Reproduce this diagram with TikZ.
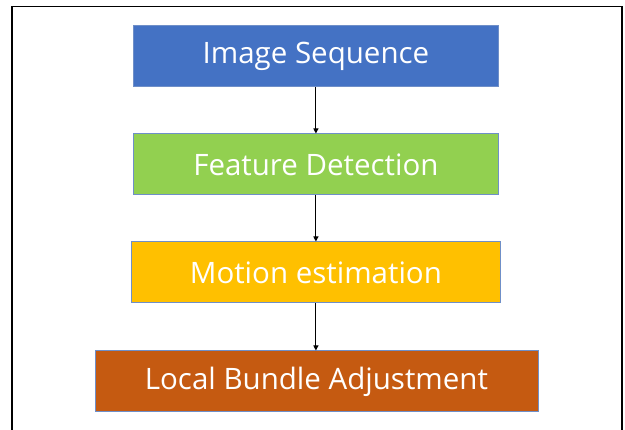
\documentclass[tikz,border=0pt]{standalone}
\usepackage{fontspec}
\setmainfont{Open Sans}
\usetikzlibrary{arrows.meta}
\definecolor{cblue}{HTML}{4472C4}
\definecolor{cgreen}{HTML}{92D050}
\definecolor{cyellow}{HTML}{FFC000}
\definecolor{corange}{HTML}{C55A11}
\definecolor{cedge}{HTML}{6F8FC8}
\begin{document}
\begin{tikzpicture}[x=1pt,y=-1pt,
  stagebox/.style={draw=cedge,line width=0.8pt,text=white,font=\fontsize{29.5}{34}\selectfont,inner sep=0pt,anchor=north west},
  flow/.style={-{Triangle[length=5pt,width=5pt]},line width=1pt,black}]
\useasboundingbox (0,0) rectangle (625,430);
\draw[line width=1.8pt,black] (12,440) -- (12,6.5) -- (622,6.5) -- (622,440);
\node[stagebox,fill=cblue,minimum width=365pt,minimum height=61pt] (a) at (133,25) {Image Sequence};
\node[stagebox,fill=cgreen,minimum width=365pt,minimum height=61pt] (b) at (133,133.5) {Feature Detection};
\node[stagebox,fill=cyellow,minimum width=369pt,minimum height=61pt] (c) at (131,241.5) {Motion estimation};
\node[stagebox,fill=corange,minimum width=443pt,minimum height=61pt] (d) at (94.5,350.5) {Local Bundle Adjustment};
\draw[flow] (a.south) -- (a.south |- b.north);
\draw[flow] (b.south) -- (b.south |- c.north);
\draw[flow] (c.south) -- (c.south |- d.north);
\end{tikzpicture}
\end{document}
